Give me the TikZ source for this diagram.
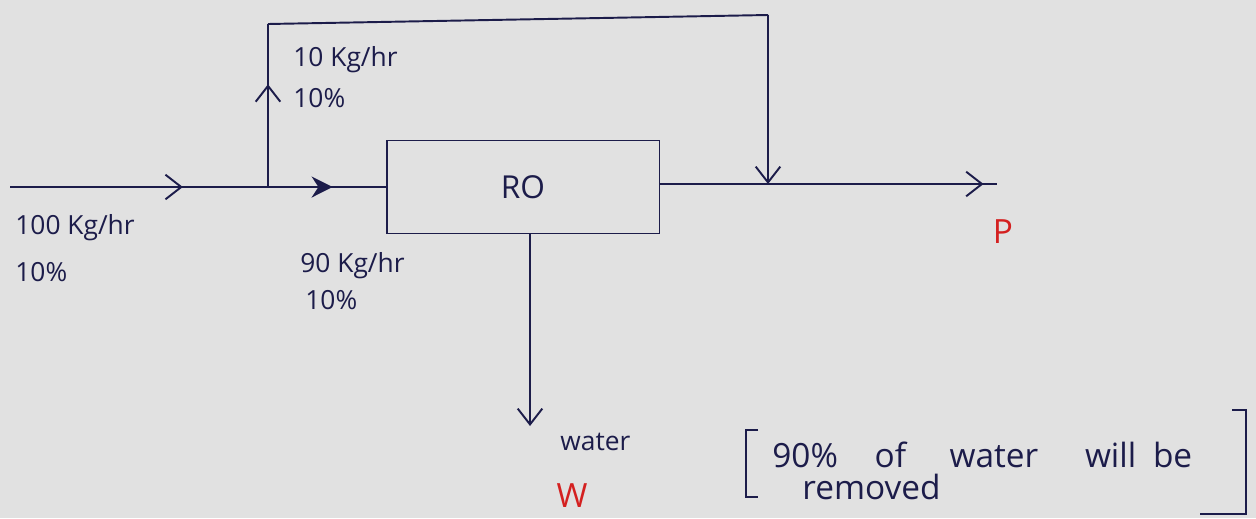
\documentclass[tikz,border=0pt]{standalone}
\usepackage{fontspec}
\setmainfont{Open Sans}
\usetikzlibrary{arrows.meta,decorations.markings}
\definecolor{bg}{HTML}{E1E1E1}
\definecolor{ink}{HTML}{1C1C4A}
\definecolor{redink}{HTML}{D42020}
\tikzset{
  flow/.style={draw=ink, line width=1.1pt},
  lbl/.style={text=ink, font=\fontsize{15}{18}\selectfont, anchor=west, inner sep=0pt},
  notelbl/.style={text=ink, font=\fontsize{19}{22}\selectfont, anchor=west, inner sep=0pt},
  redlbl/.style={text=redink, font=\fontsize{19}{22}\selectfont, inner sep=0pt},
  unitbox/.style={draw=ink, line width=1.1pt, minimum width=5.46cm, minimum height=1.86cm, text=ink, font=\fontsize{18}{22}\selectfont},
  midopen/.style={postaction={decorate}, decoration={markings, mark=at position #1 with {\arrow{Straight Barb[length=9pt,width=14pt,line width=1.1pt]}}}},
  midfill/.style={postaction={decorate}, decoration={markings, mark=at position #1 with {\arrow{Stealth[length=12pt,width=12pt]}}}},
}
\begin{document}
\begin{tikzpicture}[x=0.02cm,y=-0.02cm]
\fill[bg] (0,0) rectangle (1256,518);
\useasboundingbox (0,0) rectangle (1256,518);
% unit
\node[unitbox] (ro) at (523,187) {RO};
% coordinates
\coordinate (feed) at (10,187);
\coordinate (split) at (268,187);
\coordinate (tl) at (268,24);
\coordinate (tr) at (768,15);
\coordinate (join) at (768,184);
\coordinate (pend) at (997,184);
\coordinate (wtop) at (530,233);
\coordinate (wend) at (530,426);
% connectors
\draw[flow, midopen=0.67] (feed) -- (split);
\draw[flow, midfill=0.55] (split) -- (ro.west);
\draw[flow, midopen=0.63] (split) -- (tl);
\draw[flow] (tl) -- (tr);
\draw[flow, -{Straight Barb[length=9pt,width=14pt,line width=1.1pt]}] (tr) -- (join);
\draw[flow, midopen=0.96] (ro.east |- join) -- (pend);
\draw[flow, -{Straight Barb[length=9pt,width=14pt,line width=1.1pt]}] (wtop) -- (wend);
% labels
\node[lbl] (l1a) at (293,60) {10 Kg/hr};
\node[lbl] (l1b) at (293,98) {10\%};
\node[lbl] (l2a) at (15,228) {100 Kg/hr};
\node[lbl] (l2b) at (15,272) {10\%};
\node[lbl] (l3a) at (300,266) {90 Kg/hr};
\node[lbl] (l3b) at (305,300) {10\%};
\node[lbl] (wat) at (560,442) {water};
\node[redlbl] (w) at (572,496) {W};
\node[redlbl] (p) at (1003,232) {P};
\node[notelbl] (note1) at (772,455) {90\%\hspace{1.1em}of\hspace{1.3em}water\hspace{1.4em}will\hspace{0.5em}be};
\node[notelbl] (note2) at (802,487) {removed};
\draw[flow] (758,430) -- (746,430) -- (746,497) -- (758,497);
\draw[flow] (1232,410) -- (1246,410) -- (1246,514) -- (1200,514);
\end{tikzpicture}
\end{document}
